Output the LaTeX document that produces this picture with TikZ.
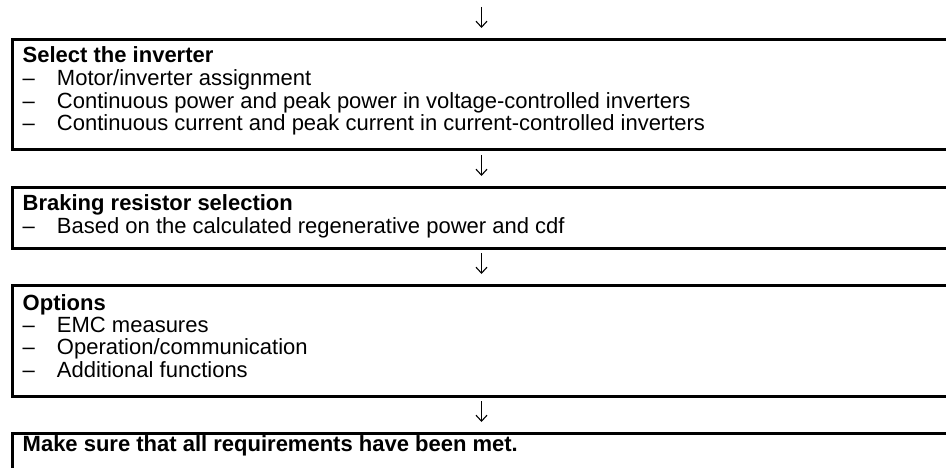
\documentclass[tikz,border=0pt]{standalone}
\usepackage{fontspec}
\setmainfont{Liberation Sans}
\usepackage{array}
\usetikzlibrary{arrows.meta}
\tikzset{
  frame/.style={line width=3pt, line join=miter},
  boxtext/.style={anchor=base west, inner sep=0pt, outer sep=0pt,
    font=\fontsize{22}{22.3}\selectfont},
  flowarrow/.style={line width=1.1pt, -{Straight Barb[length=6pt,width=11pt,line width=1.1pt]}}
}
\newcommand{\dashitem}[1]{–&#1\\}
\newenvironment{itemtab}{\begin{tabular}[t]{@{}p{34.3pt}@{}l@{}}}{\end{tabular}}
\begin{document}
\begin{tikzpicture}[x=1pt,y=-1pt]
\useasboundingbox (0,0) rectangle (946,468);
% frames (open to the right, as in the reference)
\draw[frame] (946,39.5) -| (12.5,149.5) -- (946,149.5);
\draw[frame] (946,187.5) -| (12.5,248.5) -- (946,248.5);
\draw[frame] (946,285.5) -| (12.5,396.5) -- (946,396.5);
\draw[frame] (946,433.5) -| (12.5,468);
% texts
\node[boxtext] (t1) at (22.7,63) {\begin{itemtab}
\multicolumn{2}{@{}l@{}}{\bfseries Select the inverter}\\
\dashitem{Motor/inverter assignment}
\dashitem{Continuous power and peak power in voltage-controlled inverters}
–&Continuous current and peak current in current-controlled inverters
\end{itemtab}};
\node[boxtext] (t2) at (22.7,210.7) {\begin{itemtab}
\multicolumn{2}{@{}l@{}}{\bfseries Braking resistor selection}\\
–&Based on the calculated regenerative power and cdf
\end{itemtab}};
\node[boxtext] (t3) at (22.7,310) {\begin{itemtab}
\multicolumn{2}{@{}l@{}}{\bfseries Options}\\
\dashitem{EMC measures}
\dashitem{Operation/communication}
–&Additional functions
\end{itemtab}};
\node[boxtext] (t4) at (22.7,451.7) {\bfseries Make sure that all requirements have been met.};
% arrows
\coordinate (s1) at (481.5,7);   \coordinate (e1) at (481.5,28);
\coordinate (s2) at (481.5,155); \coordinate (e2) at (481.5,176);
\coordinate (s3) at (481.5,253); \coordinate (e3) at (481.5,274);
\coordinate (s4) at (481.5,401); \coordinate (e4) at (481.5,422);
\draw[flowarrow] (s1) -- (e1);
\draw[flowarrow] (s2) -- (e2);
\draw[flowarrow] (s3) -- (e3);
\draw[flowarrow] (s4) -- (e4);
\end{tikzpicture}
\end{document}
